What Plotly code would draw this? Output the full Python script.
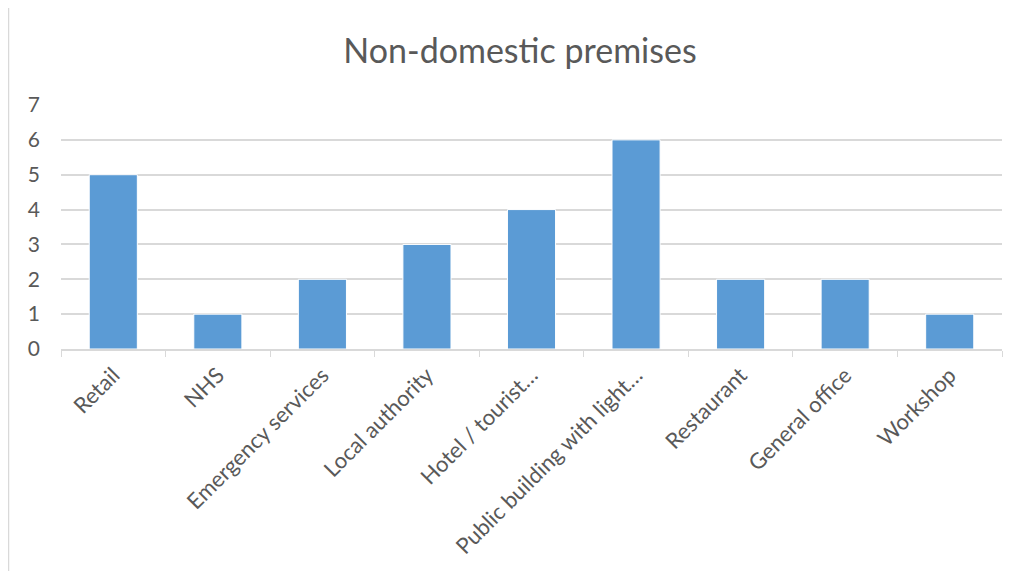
import plotly.graph_objects as go

categories = ["Retail", "NHS", "Emergency services", "Local authority",
              "Hotel / tourist…", "Public building with light…",
              "Restaurant", "General office", "Workshop"]
values = [5, 1, 2, 3, 4, 6, 2, 2, 1]
y_ticks = [0, 1, 2, 3, 4, 5, 6, 7]

# page has an 8px body margin, so figure coords = reference coords - 8
OFF = 8
W, H = 1016 - OFF, 571 - OFF
L, R, T, B = 61 - OFF, 14, 105 - OFF, 220
pw, ph = W - L - R, H - T - B

fig = go.Figure(go.Bar(
    x=categories, y=values,
    marker=dict(color="#5b9bd5", line=dict(color="#ffffff", width=1)),
))

fig.update_layout(
    width=W, height=H,
    margin=dict(l=L, r=R, t=T, b=B),
    paper_bgcolor="white", plot_bgcolor="white",
    bargap=0.54,
    showlegend=False,
    title=dict(text="Non-domestic premises", x=(520 - OFF - L) / pw, xref="paper",
               xanchor="center", y=1 - (51 - OFF) / H, yanchor="middle",
               font=dict(family="Lato", size=34, color="#595959")),
    font=dict(family="Lato", color="#595959"),
    xaxis=dict(
        type="category", tickangle=-45,
        tickfont=dict(size=22, color="#595959"),
        showline=True, linecolor="#d9d9d9", linewidth=1.5,
        ticks="outside", tickson="boundaries", ticklen=6, tickcolor="#d9d9d9",
        showgrid=False, ticklabelstandoff=3,
    ),
    yaxis=dict(
        range=[0, 7], tickvals=y_ticks,
        tickfont=dict(size=21, color="#595959"),
        showgrid=True, gridcolor="#d9d9d9", gridwidth=1.5,
        zeroline=False, showline=False, ticks="", ticklabelstandoff=20,
    ),
    shapes=[dict(type="rect", xref="paper", yref="paper",
                 x0=(8.5 - OFF - L) / pw, x1=(W + 5 - L) / pw,
                 y0=-(H + 5 - T - ph) / ph, y1=1 + (T - (6 - OFF)) / ph,
                 line=dict(color="#d9d9d9", width=1.5), layer="below")],
)

fig.write_html("out.html")
